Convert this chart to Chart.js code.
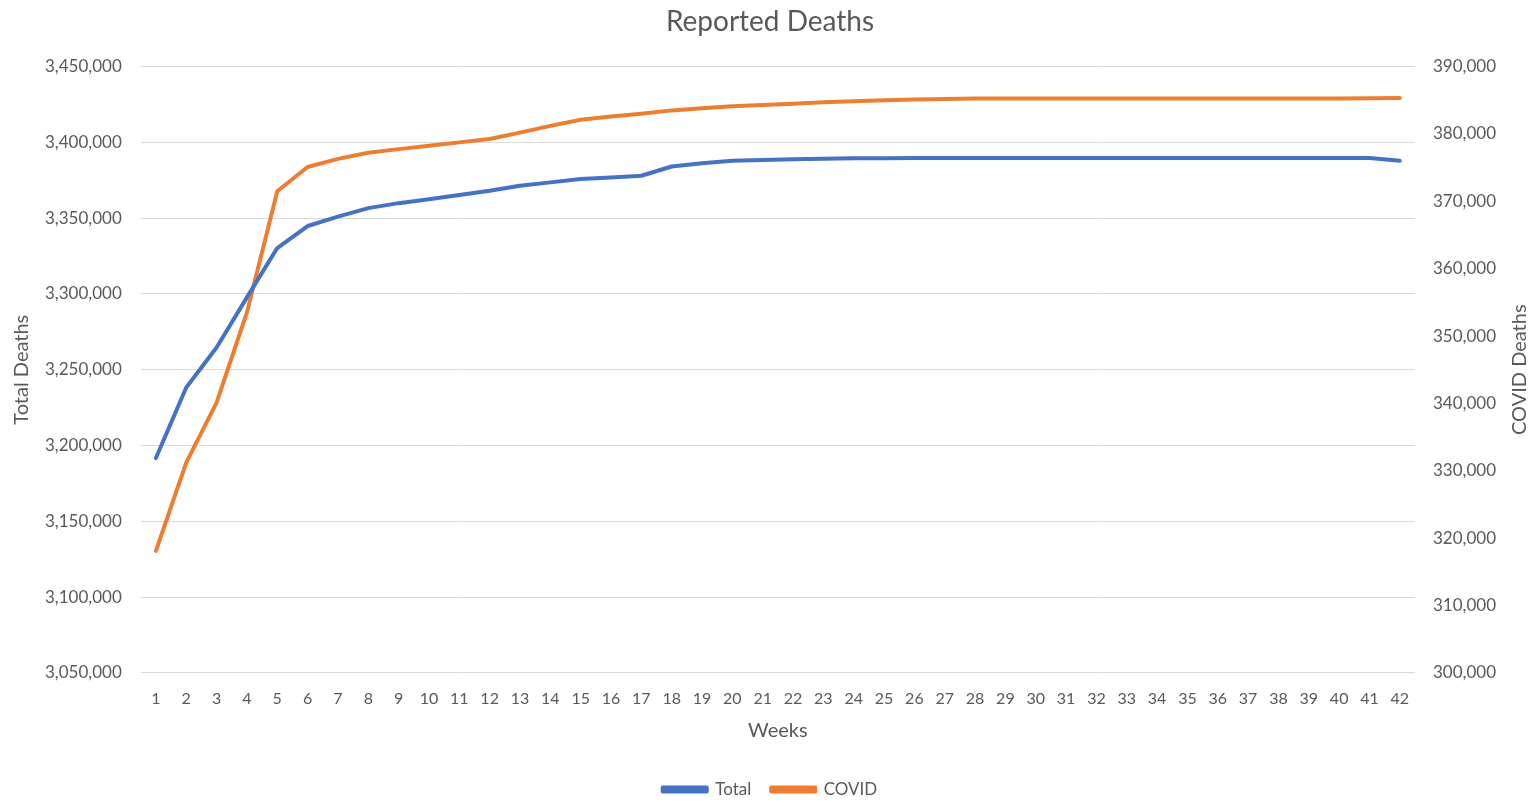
<!DOCTYPE html>
<html>
<head>
<meta charset="utf-8">
<title>Reported Deaths</title>
<script src="https://cdn.jsdelivr.net/npm/chart.js@4.4.1/dist/chart.umd.min.js"></script>
<style>
  html, body { margin: 0; padding: 0; background: #ffffff; }
  #wrap { width: 1537px; height: 802px; position: relative; }
</style>
</head>
<body>
<div id="wrap"><canvas id="deathsChart"></canvas></div>
<script>
// weeks on the x axis
const weeks = [];
for (let i = 1; i <= 42; i++) weeks.push(String(i));

const totalDeaths = [
    3191700, 3238300, 3264700, 3297700, 3330300, 3344800, 3351000, 3356600, 3359900, 3362400,
    3365300, 3368100, 3371400, 3373600, 3375800, 3376900, 3378000, 3384100, 3386300, 3387900,
    3388400, 3388800, 3389200, 3389600, 3389600, 3389700, 3389700, 3389700, 3389700, 3389700,
    3389700, 3389700, 3389700, 3389700, 3389700, 3389700, 3389700, 3389700, 3389700, 3389700,
    3389700, 3387900
];
const covidDeaths = [
    318100, 331200, 340100, 353500, 371500, 375100, 376300, 377200, 377750, 378250,
    378750, 379250, 380200, 381200, 382100, 382600, 383000, 383500, 383800, 384100,
    384300, 384500, 384700, 384850, 385000, 385100, 385180, 385250, 385250, 385250,
    385250, 385250, 385260, 385270, 385270, 385270, 385270, 385270, 385270, 385280,
    385290, 385350
];

const leftAxis = { min: 3050000, max: 3450000, step: 50000 };
const rightAxis = { min: 300000, max: 390000, step: 10000 };

const textColor = '#595959';
const fontFamily = 'Lato, "Open Sans", sans-serif';

// both y titles read bottom-to-top, Chart.js flips the right one, so draw them here
const yTitles = {
    id: 'yTitles',
    afterDraw(chart) {
        const c = chart.ctx;
        const midY = (chart.chartArea.top + chart.chartArea.bottom) / 2;
        const drawTitle = (text, x) => {
            c.save();
            c.translate(x, midY);
            c.rotate(-Math.PI / 2);
            c.fillStyle = textColor;
            c.font = '20px ' + fontFamily;
            c.textAlign = 'center';
            c.textBaseline = 'middle';
            c.fillText(text, 0, 0);
            c.restore();
        };
        drawTitle('Total Deaths', 22);
        drawTitle('COVID Deaths', 1520);
    }
};

const ctx = document.getElementById('deathsChart').getContext('2d');

const deathsChart = new Chart(ctx, {
    type: 'line',
    data: {
        labels: weeks,
        datasets: [{
            label: 'Total',
            data: totalDeaths,
            yAxisID: 'yLeft',
            borderColor: '#4472C4',
            backgroundColor: '#4472C4',
            borderWidth: 4,
            pointRadius: 0,
            tension: 0,
            borderCapStyle: 'round',
            borderJoinStyle: 'round'
        }, {
            label: 'COVID',
            data: covidDeaths,
            yAxisID: 'yRight',
            borderColor: '#ED7D31',
            backgroundColor: '#ED7D31',
            borderWidth: 4,
            pointRadius: 0,
            tension: 0,
            borderCapStyle: 'round',
            borderJoinStyle: 'round'
        }]
    },
    options: {
        responsive: true,
        maintainAspectRatio: false,
        animation: false,
        layout: { padding: { left: 26, right: 23, top: 4, bottom: -6 } },
        plugins: {
            title: {
                display: true,
                text: 'Reported Deaths',
                color: textColor,
                font: { family: fontFamily, size: 28, weight: 'normal' },
                padding: { top: 1, bottom: 28 }
            },
            legend: {
                position: 'bottom',
                labels: {
                    color: textColor,
                    font: { family: fontFamily, size: 17 },
                    boxWidth: 44,
                    boxHeight: 4,
                    padding: 20
                }
            },
            tooltip: { enabled: false }
        },
        scales: {
            x: {
                offset: true,
                grid: { display: false, drawTicks: false },
                border: { display: false },
                ticks: {
                    color: textColor,
                    font: { family: fontFamily, size: 16 },
                    maxRotation: 0,
                    autoSkip: false,
                    padding: 16
                },
                title: {
                    display: true,
                    text: 'Weeks',
                    color: textColor,
                    font: { family: fontFamily, size: 20 },
                    padding: { top: -5, bottom: 18 }
                }
            },
            yLeft: {
                position: 'left',
                min: leftAxis.min,
                max: leftAxis.max,
                grid: { color: '#D9D9D9', lineWidth: 1, drawTicks: false },
                border: { display: false },
                ticks: {
                    stepSize: leftAxis.step,
                    color: textColor,
                    font: { family: fontFamily, size: 17 },
                    padding: 19,
                    callback: v => v.toLocaleString('en-US')
                }
            },
            yRight: {
                position: 'right',
                min: rightAxis.min,
                max: rightAxis.max,
                grid: { display: false, drawTicks: false },
                border: { display: false },
                ticks: {
                    stepSize: rightAxis.step,
                    color: textColor,
                    font: { family: fontFamily, size: 17 },
                    padding: 18,
                    callback: v => v.toLocaleString('en-US')
                }
            }
        }
    },
    plugins: [yTitles]
});
</script>
</body>
</html>
